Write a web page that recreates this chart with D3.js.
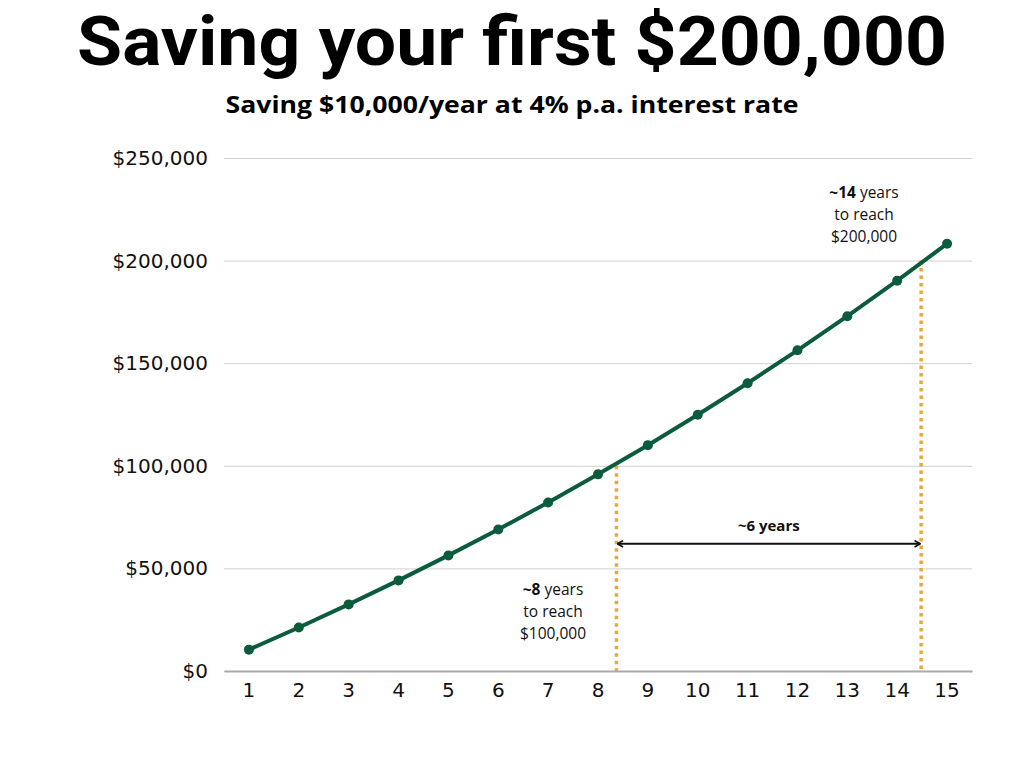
<!DOCTYPE html>
<html><head><meta charset="utf-8">
<script src="https://cdn.jsdelivr.net/npm/d3@7"></script>
<style>body{margin:0;background:#fff}</style>
</head><body>
<svg id="c" width="1024" height="768"></svg>
<script>
const years = [1,2,3,4,5,6,7,8,9,10,11,12,13,14,15];
const balances = [10400,21216,32465,44163,56330,68983,82142,95828,110061,124864,140258,156268,172919,190236,208245];
const yTicks = [0,50000,100000,150000,200000,250000];
const milestones = [
  {year: 8.37, value: 100000, bold: "~8", lines: ["to reach","$100,000"]},
  {year: 14.48, value: 200000, bold: "~14", lines: ["to reach","$200,000"]}
];
const gapLabel = "~6 years";
const title = "Saving your first $200,000";
const subtitle = "Saving $10,000/year at 4% p.a. interest rate";

(function(){
const svg = d3.select("#c");
const pL = 224, pR = 972, pT = 158, pB = 671;
const x = d3.scaleBand().domain(years).range([pL, pR]).padding(0);
const xc = v => x(v) + x.bandwidth()/2;
const xl = d3.scaleLinear().domain([1,15]).range([xc(1), xc(15)]);
const y = d3.scaleLinear().domain([0,250000]).range([pB, pT]);

svg.append("text").attr("x",512).attr("y",65).attr("text-anchor","middle")
  .attr("font-family","Roboto").attr("font-weight",700).attr("font-size",69)
  .attr("textLength",870).attr("lengthAdjust","spacingAndGlyphs").text(title);
svg.append("text").attr("x",512).attr("y",113).attr("text-anchor","middle")
  .attr("font-family","Open Sans").attr("font-weight",700).attr("font-size",24)
  .attr("textLength",573).attr("lengthAdjust","spacingAndGlyphs").text(subtitle);

const yAxis = d3.axisLeft(y).tickValues(yTicks).tickSize(-(pR-pL)).tickPadding(16)
  .tickFormat(d => "$" + d3.format(",")(d));
const gy = svg.append("g").attr("transform",`translate(${pL},0)`).call(yAxis);
gy.select(".domain").remove();
gy.selectAll(".tick line").attr("stroke","#d0d0d0").attr("stroke-width",1);
gy.selectAll(".tick text").attr("font-family","DejaVu Sans").attr("font-size",20).attr("fill","#111");

const xAxis = d3.axisBottom(x).tickSize(0).tickPadding(12);
const gx = svg.append("g").attr("transform",`translate(0,${pB})`).call(xAxis);
gx.select(".domain").attr("stroke","#aaa").attr("stroke-width",2);
gx.selectAll(".tick text").attr("font-family","DejaVu Sans").attr("font-size",20).attr("fill","#111");

svg.selectAll("line.ms").data(milestones).join("line").attr("class","ms")
  .attr("x1",d=>xl(d.year)).attr("x2",d=>xl(d.year))
  .attr("y1",d=>y(d.value)).attr("y2",pB)
  .attr("stroke","#E9A93A").attr("stroke-width",3.5).attr("stroke-dasharray","3.5,4");

const line = d3.line().x(d=>xc(d[0])).y(d=>y(d[1]));
const pts = years.map((yr,i)=>[yr,balances[i]]);
svg.append("path").datum(pts).attr("d",line).attr("fill","none")
  .attr("stroke","#0A5C3C").attr("stroke-width",4);
svg.selectAll("circle").data(pts).join("circle").attr("cx",d=>xc(d[0])).attr("cy",d=>y(d[1]))
  .attr("r",5).attr("fill","#0A5C3C");

const defs = svg.append("defs");
["s","e"].forEach(k=>{
  defs.append("marker").attr("id","ar"+k).attr("viewBox","0 0 10 10").attr("refX",9).attr("refY",5)
    .attr("markerWidth",8).attr("markerHeight",8).attr("markerUnits","userSpaceOnUse").attr("orient","auto-start-reverse")
    .append("path").attr("d","M2,1 L9,5 L2,9").attr("fill","none").attr("stroke","#111").attr("stroke-width",2);
});
const ay = y(62000);
svg.append("line").attr("x1",xl(milestones[0].year)+1).attr("x2",xl(milestones[1].year)-1)
  .attr("y1",ay).attr("y2",ay).attr("stroke","#111").attr("stroke-width",2)
  .attr("marker-start","url(#ars)").attr("marker-end","url(#are)");
svg.append("text").attr("x",(xl(milestones[0].year)+xl(milestones[1].year))/2).attr("y",ay-13)
  .attr("text-anchor","middle").attr("font-family","Open Sans").attr("font-weight",700)
  .attr("font-size",15).attr("fill","#111").text(gapLabel);

const ann = [{m:milestones[0], cx:553, y0:595},{m:milestones[1], cx:864, y0:198}];
ann.forEach(a=>{
  const t = svg.append("text").attr("text-anchor","middle").attr("font-family","Open Sans")
    .attr("font-size",15.5).attr("fill","#111");
  const l1 = t.append("tspan").attr("x",a.cx).attr("y",a.y0);
  l1.append("tspan").attr("font-weight",700).text(a.m.bold);
  l1.append("tspan").text(" years");
  a.m.lines.forEach((s,i)=>t.append("tspan").attr("x",a.cx).attr("y",a.y0+22*(i+1)).text(s));
});
})();
</script>
</body></html>
